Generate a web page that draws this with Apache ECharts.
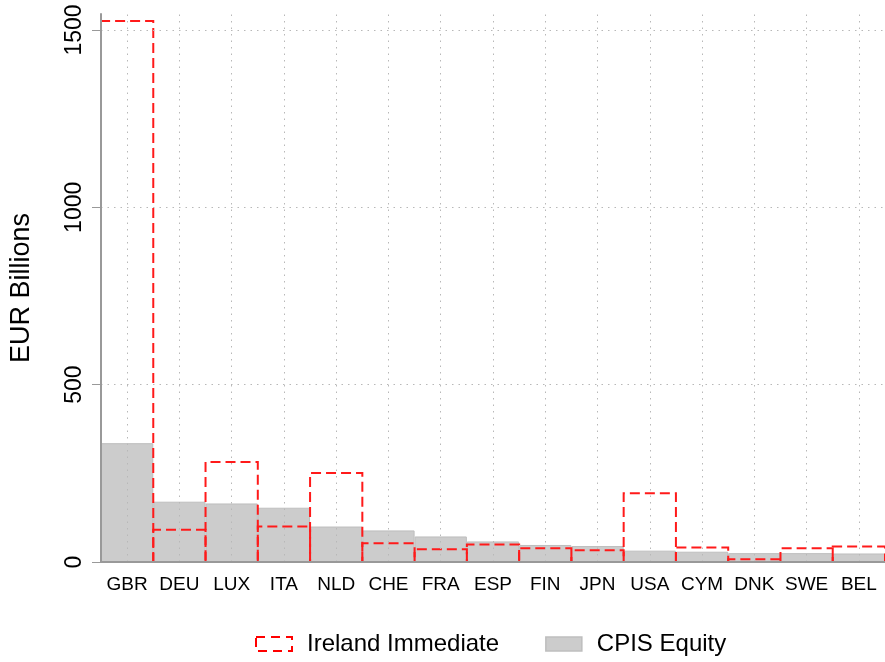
<!DOCTYPE html>
<html>
<head>
<meta charset="utf-8">
<script src="https://cdn.jsdelivr.net/npm/echarts@6/dist/echarts.min.js"></script>
<style>
  html, body { margin: 0; padding: 0; background: #fff; }
  #chart { width: 885px; height: 662px; }
</style>
</head>
<body>
<div id="chart"></div>
<script>
const categories = ['GBR', 'DEU', 'LUX', 'ITA', 'NLD', 'CHE', 'FRA', 'ESP', 'FIN', 'JPN', 'USA', 'CYM', 'DNK', 'SWE', 'BEL'];
const irelandImmediate = [1525, 91, 282, 100, 251, 53, 36, 49, 39, 33, 194, 41, 8, 39, 44];
const cpisEquity = [335, 170, 165, 153, 100, 89, 72, 58, 48, 45, 32, 29, 25, 25, 24];
const yGridValues = [500, 1000, 1500];

const font = 'Liberation Sans, Arial, Helvetica, sans-serif';
const gridLineStyle = { color: '#b8b8b8', width: 1, type: [1.5, 5] };
const redDash = [10, 5];

const chart = echarts.init(document.getElementById('chart'));

// grid lines go through a background series so the bars cover them
const gridLines = []
  .concat(categories.map(c => ({ xAxis: c })))
  .concat(yGridValues.map(v => ({ yAxis: v })));

// open-bottom dashed outline, like R's border-only rect sitting on the axis
function renderOutline(params, api) {
  const idx = api.value(0);
  const top = api.coord([idx, api.value(1)]);
  const base = api.coord([idx, 0]);
  const w = api.size([1, 0])[0];
  const x0 = top[0] - w / 2;
  const x1 = top[0] + w / 2;
  return {
    type: 'polyline',
    shape: { points: [[x0, base[1]], [x0, top[1]], [x1, top[1]], [x1, base[1]]] },
    style: { fill: null, stroke: '#ff1a1a', lineWidth: 2, lineDash: redDash },
    silent: true
  };
}

const option = {
  animation: false,
  textStyle: { fontFamily: font },
  grid: { left: 98, right: -4, top: 14, bottom: 100 },
  legend: {
    top: 627,
    left: 250,
    itemGap: 46,
    itemWidth: 36,
    itemHeight: 14,
    textStyle: { fontSize: 24, color: '#000', fontFamily: font, padding: [0, 0, 0, 10] },
    data: [
      { name: 'Ireland Immediate', icon: 'rect',
        itemStyle: { color: '#fff', borderColor: '#ff0000', borderWidth: 2, borderType: [9, 6] } },
      { name: 'CPIS Equity', icon: 'rect',
        itemStyle: { color: '#cccccc', borderColor: '#bebebe', borderWidth: 1.5 } }
    ]
  },
  xAxis: {
    type: 'category',
    data: categories,
    z: 10,
    axisLine: { lineStyle: { color: '#999', width: 2 } },
    axisTick: { alignWithLabel: true, length: 7, lineStyle: { color: '#999' } },
    axisLabel: { fontSize: 19, color: '#000', margin: 13, interval: 0 },
    splitLine: { show: false }
  },
  yAxis: {
    type: 'value',
    min: 0,
    max: 1545,
    interval: 500,
    z: 10,
    name: 'EUR Billions',
    nameLocation: 'middle',
    nameGap: 66,
    nameTextStyle: { fontSize: 27, color: '#000' },
    axisLine: { show: true, lineStyle: { color: '#999', width: 2 } },
    axisTick: { show: true, length: 9, lineStyle: { color: '#999' } },
    axisLabel: {
      rotate: 90, fontSize: 23, color: '#000', margin: 15, showMaxLabel: false,
      formatter: v => String(v)
    },
    splitLine: { show: false }
  },
  series: [
    {
      name: 'grid',
      type: 'line',
      data: [],
      z: 1,
      silent: true,
      markLine: {
        silent: true,
        symbol: 'none',
        label: { show: false },
        lineStyle: gridLineStyle,
        data: gridLines
      }
    },
    {
      name: 'CPIS Equity',
      type: 'bar',
      data: cpisEquity,
      z: 2,
      barCategoryGap: 0,
      itemStyle: { color: '#cccccc', borderColor: '#bebebe', borderWidth: 1 }
    },
    {
      name: 'Ireland Immediate',
      type: 'custom',
      z: 3,
      clip: false,
      renderItem: renderOutline,
      itemStyle: { color: '#ff0000' },
      encode: { x: 0, y: 1 },
      data: irelandImmediate.map((v, i) => [i, v])
    }
  ]
};

chart.setOption(option);
</script>
</body>
</html>
